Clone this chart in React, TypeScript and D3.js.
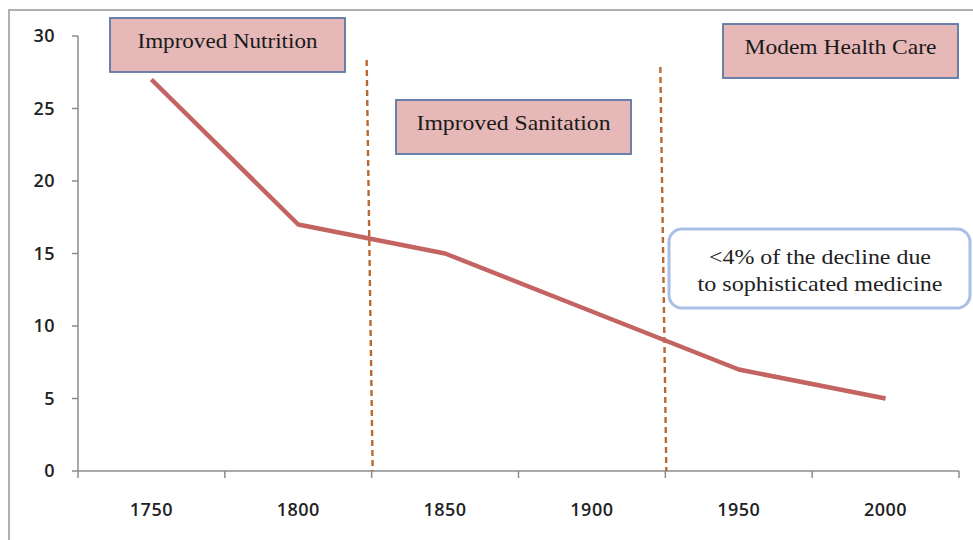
import React from 'react';
import * as d3 from 'd3';

const years = ['1750', '1800', '1850', '1900', '1950', '2000'];
const values = [27, 17, 15, 11, 7, 5];
const yTicks = [0, 5, 10, 15, 20, 25, 30];

// era boxes
const eras = [
  { label: 'Improved Nutrition', left: 110, top: 18, len: 180 },
  { label: 'Improved Sanitation', left: 396, top: 100, len: 194 },
  { label: 'Modem Health Care', left: 723, top: 24, len: 192 },
];
const dividers = [1, 3]; // band index after which an era boundary falls
const calloutLines = [
  { text: '<4% of the decline due', len: 222 },
  { text: 'to sophisticated medicine', len: 245 },
];

const width = 973;
const height = 540;
const margin = { top: 36, right: 14, bottom: 69, left: 78 };

export default function App() {
  const x = d3.scaleBand<string>()
    .domain(years)
    .range([margin.left, width - margin.right])
    .padding(0);

  const y = d3.scaleLinear()
    .domain([0, 30])
    .range([height - margin.bottom, margin.top]);

  const cx = (d: string) => (x(d) as number) + x.bandwidth() / 2;

  const line = d3.line<number>()
    .x((_, i) => cx(years[i]))
    .y(d => y(d));

  const boundaries = d3.range(years.length + 1).map(i => margin.left + i * x.step());
  const boxW = 235;
  const boxH = 54;
  const serif = '"Liberation Serif", "Times New Roman", serif';
  const sans = '"Open Sans", Lato, sans-serif';

  return (
    <svg width={width} height={height} style={{ position: 'absolute', left: 0, top: 0, background: '#fff' }}>
      {/* outer frame */}
      <rect x={9} y={10} width={1000} height={600} fill="none" stroke="#b0b0b0" strokeWidth={2} />

      {/* y axis */}
      <line x1={margin.left} x2={margin.left} y1={y(30)} y2={y(0)} stroke="#8c8c8c" strokeWidth={1.5} />
      {yTicks.map(t => (
        <g key={t}>
          <line x1={margin.left - 6} x2={margin.left} y1={y(t)} y2={y(t)} stroke="#8c8c8c" strokeWidth={1.5} />
          <text x={55} y={y(t)} dy="0.35em" textAnchor="end" fontFamily={sans} fontSize={18} fontWeight={600} letterSpacing={0.5} fill="#222">{t}</text>
        </g>
      ))}

      {/* x axis */}
      <line x1={margin.left} x2={width - margin.right} y1={y(0)} y2={y(0)} stroke="#8c8c8c" strokeWidth={1.5} />
      {boundaries.map((b, i) => (
        <line key={i} x1={b} x2={b} y1={y(0)} y2={y(0) + 7} stroke="#8c8c8c" strokeWidth={1.5} />
      ))}
      {years.map(yr => (
        <text key={yr} x={cx(yr)} y={y(0) + 39} dy="0.35em" textAnchor="middle" fontFamily={sans} fontSize={18} fontWeight={600} letterSpacing={0.5} fill="#222">{yr}</text>
      ))}

      {/* era dividers */}
      {dividers.map((d, i) => {
        const bx = boundaries[d + 1];
        return (
          <line key={i} x1={bx - 5} x2={bx + 1} y1={i === 0 ? 60 : 67} y2={y(0)}
            stroke="#b9692f" strokeWidth={2.4} strokeDasharray="6,4" />
        );
      })}

      {/* series */}
      <path d={line(values) as string} fill="none" stroke="#c46462" strokeWidth={4.5} strokeLinejoin="round" />

      {/* era boxes */}
      {eras.map(e => (
        <g key={e.label}>
          <rect x={e.left} y={e.top} width={boxW} height={boxH} fill="#e6b8b7" stroke="#5a77a6" strokeWidth={1.8} />
          <text x={e.left + boxW / 2} y={e.top + 22} dy="0.35em" textAnchor="middle" fontFamily={serif} fontSize={22}
            textLength={e.len} lengthAdjust="spacingAndGlyphs" fill="#1a1a1a">{e.label}</text>
        </g>
      ))}

      {/* callout */}
      <rect x={669} y={229} width={301} height={79} rx={13} fill="#fff" stroke="#a9bfe6" strokeWidth={3} />
      {calloutLines.map((l, i) => (
        <text key={i} x={820} y={256 + i * 27} dy="0.35em" textAnchor="middle" fontFamily={serif} fontSize={22}
          textLength={l.len} lengthAdjust="spacingAndGlyphs" fill="#222">{l.text}</text>
      ))}
    </svg>
  );
}
